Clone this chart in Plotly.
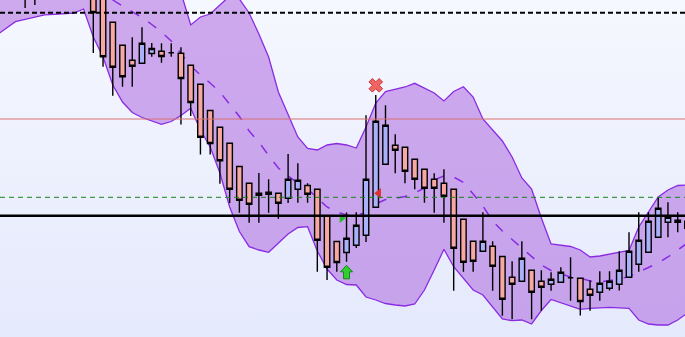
import plotly.graph_objects as go

# ---- candle data (bar index, open, high, low, close) ----
idx = list(range(-10, 62))
opens = [372, 362, 356, 352, 344, 356, 366, 374, 370, 378,
         352, 340, 314.7, 291.7, 276.7, 273.7, 283.5, 285.7, 284.3, 283.7,
         271.7, 252.7, 226.5, 209.7, 193.7, 170.5, 153.7, 143.7, 142.7, 143.7,
         138.7, 147.7, 151.5, 147.7, 120.7, 95.5, 84.5, 91.7, 101.7, 129.7,
         172.7, 191.7, 189.7, 177.7, 167.7, 157.7, 153.7, 147.7, 117.7, 95.7,
         85.7, 90.7, 80.5, 59.7, 55.7, 66.7, 55.7, 52.7, 54.7, 59.3,
         58.7, 47.7, 44.7, 48.7, 52.7, 59.7, 72.8, 84.7, 99.7, 114.7,
         116.7, 115.7]
highs = [385, 378, 368, 366, 362, 372, 380, 384, 386, 383,
         357, 345, 314.7, 291.7, 299.7, 309.7, 294, 293.7, 293.7, 289.7,
         271.7, 252.7, 226.5, 209.7, 193.7, 170.5, 153.7, 164, 157.8, 143.7,
         183, 173.7, 153.7, 147.7, 120.7, 95.5, 124.5, 124.7, 221.7, 242,
         231.7, 202.7, 189.7, 177.7, 167.7, 163.7, 167.8, 147.7, 117.7, 95.7,
         124.7, 95.7, 80.5, 75.8, 95.7, 66.7, 66.7, 64.7, 69.7, 79.7,
         58.7, 56.8, 65.7, 65.7, 85.7, 104.7, 124.7, 124.7, 139.7, 134.7,
         124.7, 123]
lows = [352, 345, 340, 329, 332, 348, 358, 362, 364, 356,
        284, 270.3, 241.3, 250.3, 250.3, 273.7, 280.3, 274.3, 280.3, 212.5,
        221, 182.5, 182.5, 153.3, 134, 124.3, 114.3, 114.3, 124.3, 118.3,
        134, 134.3, 134.3, 65.3, 57, 65.3, 75.3, 89, 95, 129.7,
        172.7, 163.7, 153.7, 147.7, 134.3, 124.3, 114.3, 46.3, 65.3, 65.3,
        85.7, 46.3, 21.3, 17.7, 55, 17.7, 26.3, 46.3, 54.7, 36.3,
        21.5, 26.3, 36.3, 46.5, 46.5, 59.7, 65.2, 84.7, 99.7, 99.7,
        104.7, 102]
closes = [362, 356, 350, 344, 356, 366, 374, 370, 378, 366,
          324.5, 280.3, 269.7, 260.3, 270.7, 293.7, 288.5, 280.5, 284.3, 258.5,
          234.5, 199.7, 193.5, 176.3, 147.7, 136.7, 132.7, 141.7, 144.7, 133.7,
          157.7, 156.8, 142.7, 96.7, 69.7, 74.5, 98.7, 111.7, 157.7, 215.7,
          211.7, 186.7, 165.7, 157.7, 148.7, 148.7, 140.7, 88.7, 74.7, 75.8,
          95.7, 70.7, 37.8, 52.7, 78.7, 44.7, 49.7, 57.7, 64.7, 59.3,
          35.5, 41.7, 53.7, 55.7, 66.7, 85.7, 96.7, 115.7, 128.7, 119.7,
          114.7, 108.7]

# ---- Bollinger band values ----
band_upper = [407, 409, 412, 415, 417, 419, 421, 423, 425, 427,
              429, 430, 427, 427, 425, 419, 409, 397, 377, 345,
              312, 320, 323, 332, 341, 338, 324, 303, 280, 245,
              222, 200, 188.5, 187, 192, 193.5, 192, 189, 210, 234,
              245.5, 247.5, 250, 253.7, 249, 244, 236, 245.5, 250.3, 240,
              218, 207, 196, 180, 159, 148, 119, 93, 91.5, 90.5,
              87, 80, 81, 83, 84.5, 86.5, 110, 125.5, 140, 147,
              151.5, 152]
band_mid = [350, 352, 354, 356, 357, 358, 359, 360, 361, 361,
            353, 345, 337, 331, 325, 319.5, 312.5, 305, 296, 283,
            271, 262, 254, 245, 233, 220.5, 206, 195, 181.5, 169,
            161, 154, 148, 139, 130, 125, 122, 121, 125, 133,
            137.5, 138.5, 140.5, 144, 149, 157, 161, 160, 154.5, 143,
            131, 116, 106, 97.5, 89, 80, 72, 66.5, 63.5, 60,
            59, 56, 55, 56.5, 58, 60.5, 65, 69, 74, 80,
            87, 94]
band_lower = [301.4, 308.5, 315.3, 317.7, 320, 322.2, 322.7, 323.3, 324, 328,
              300, 280, 252, 235, 224.5, 219.5, 216, 212.7, 215.5, 221.5,
              228.7, 207, 190, 164, 130, 105.5, 90.3, 87, 84.7, 93.5,
              103, 109.5, 110.3, 86, 68, 57, 52.5, 52, 40, 37,
              33.5, 32, 31, 33, 47, 67, 87.7, 70.3, 58.7, 47,
              42, 30.5, 18, 16.3, 17, 13, 26.5, 37.5, 34.3, 31,
              27.7, 28.7, 29.2, 29.7, 29.2, 28.7, 17, 13, 12, 12,
              17, 24]

# ---- horizontal levels ----
level_dashed_top = 324.3
level_red = 218
level_green = 139.7
level_black = 121.3

# ---- signal markers ----
sell_x, sell_y = [29], [251.7]
tri_left_x, tri_left_y = [29.3], [143.7]
tri_right_x, tri_right_y = [25.5], [118.7]
arrow_x, arrow_y = [26], [64.7]

X_RANGE = [-9.579, 60.749]
Y_RANGE = [0, 337]

fig = go.Figure()

# background gradient (base axes)
fig.add_trace(go.Scatter(
    x=[X_RANGE[0] - 1, X_RANGE[1] + 1, X_RANGE[1] + 1, X_RANGE[0] - 1, X_RANGE[0] - 1],
    y=[Y_RANGE[0] - 5, Y_RANGE[0] - 5, Y_RANGE[1] + 5, Y_RANGE[1] + 5, Y_RANGE[0] - 5],
    mode="none", fill="toself",
    fillgradient=dict(type="vertical",
                      colorscale=[[0, "#e4e9fc"], [1, "#f6f8ff"]]),
    hoverinfo="skip"))

band_color = "#8a2be2"
fig.add_trace(go.Scatter(x=idx, y=band_lower, mode="lines",
                         line=dict(color=band_color, width=1.3), hoverinfo="skip"))
fig.add_trace(go.Scatter(x=idx, y=band_upper, mode="lines", fill="tonexty",
                         fillcolor="rgba(172,102,222,0.54)",
                         line=dict(color=band_color, width=1.3), hoverinfo="skip"))
fig.add_trace(go.Scatter(x=idx, y=band_mid, mode="lines",
                         line=dict(color=band_color, width=1.5, dash="10px,11px"),
                         hoverinfo="skip"))

# candles on an overlaid subplot so they sit above the band fill
fig.add_trace(go.Candlestick(
    x=idx, open=opens, high=highs, low=lows, close=closes,
    increasing=dict(fillcolor="#a9b1f8", line=dict(color="black", width=1.4)),
    decreasing=dict(fillcolor="#f7a8a3", line=dict(color="black", width=1.4)),
    whiskerwidth=0, xaxis="x2", yaxis="y2"))

fig.add_trace(go.Scatter(x=sell_x, y=sell_y, mode="markers", xaxis="x2", yaxis="y2",
                         marker=dict(symbol="x", size=12, color="#f06464",
                                     line=dict(color="#c83232", width=1))))
fig.add_trace(go.Scatter(x=tri_left_x, y=tri_left_y, mode="markers", xaxis="x2", yaxis="y2",
                         marker=dict(symbol="triangle-left", size=9, color="#e03030",
                                     line=dict(width=0))))
fig.add_trace(go.Scatter(x=tri_right_x, y=tri_right_y, mode="markers", xaxis="x2", yaxis="y2",
                         marker=dict(symbol="triangle-right", size=8, color="#22bb22",
                                     line=dict(width=0))))

shapes = [
    dict(type="line", xref="paper", x0=0, x1=1, yref="y", y0=level_dashed_top, y1=level_dashed_top,
         line=dict(color="black", width=2, dash="5px,3px"), layer="above"),
    dict(type="line", xref="paper", x0=0, x1=1, yref="y", y0=level_red, y1=level_red,
         line=dict(color="#d87070", width=1), layer="above"),
    dict(type="line", xref="paper", x0=0, x1=1, yref="y", y0=level_green, y1=level_green,
         line=dict(color="#1a801a", width=1, dash="5px,4px"), layer="above"),
    dict(type="line", xref="paper", x0=0, x1=1, yref="y", y0=level_black, y1=level_black,
         line=dict(color="black", width=2.5), layer="above"),
]
for ax_, ay_ in zip(arrow_x, arrow_y):
    shapes.append(dict(
        type="path", xref="x", yref="y", xsizemode="pixel", ysizemode="pixel",
        xanchor=ax_, yanchor=ay_,
        path="M 0,7 L 6,0.5 L 3,0.5 L 3,-6.5 L -3,-6.5 L -3,0.5 L -6,0.5 Z",
        fillcolor="#33cc33", line=dict(color="#118811", width=1), layer="above"))

fig.update_layout(
    width=685, height=337, margin=dict(l=0, r=0, t=0, b=0),
    paper_bgcolor="#eef2fd", plot_bgcolor="rgba(0,0,0,0)",
    showlegend=False,
    boxgap=0.44, boxgroupgap=0,
    xaxis=dict(range=X_RANGE, visible=False, rangeslider=dict(visible=False), fixedrange=True),
    yaxis=dict(range=Y_RANGE, visible=False, fixedrange=True),
    xaxis2=dict(range=X_RANGE, visible=False, overlaying="x", anchor="y2",
                rangeslider=dict(visible=False), fixedrange=True),
    yaxis2=dict(range=Y_RANGE, visible=False, overlaying="y", anchor="x2", fixedrange=True),
    shapes=shapes,
)

fig.write_html("out.html")
